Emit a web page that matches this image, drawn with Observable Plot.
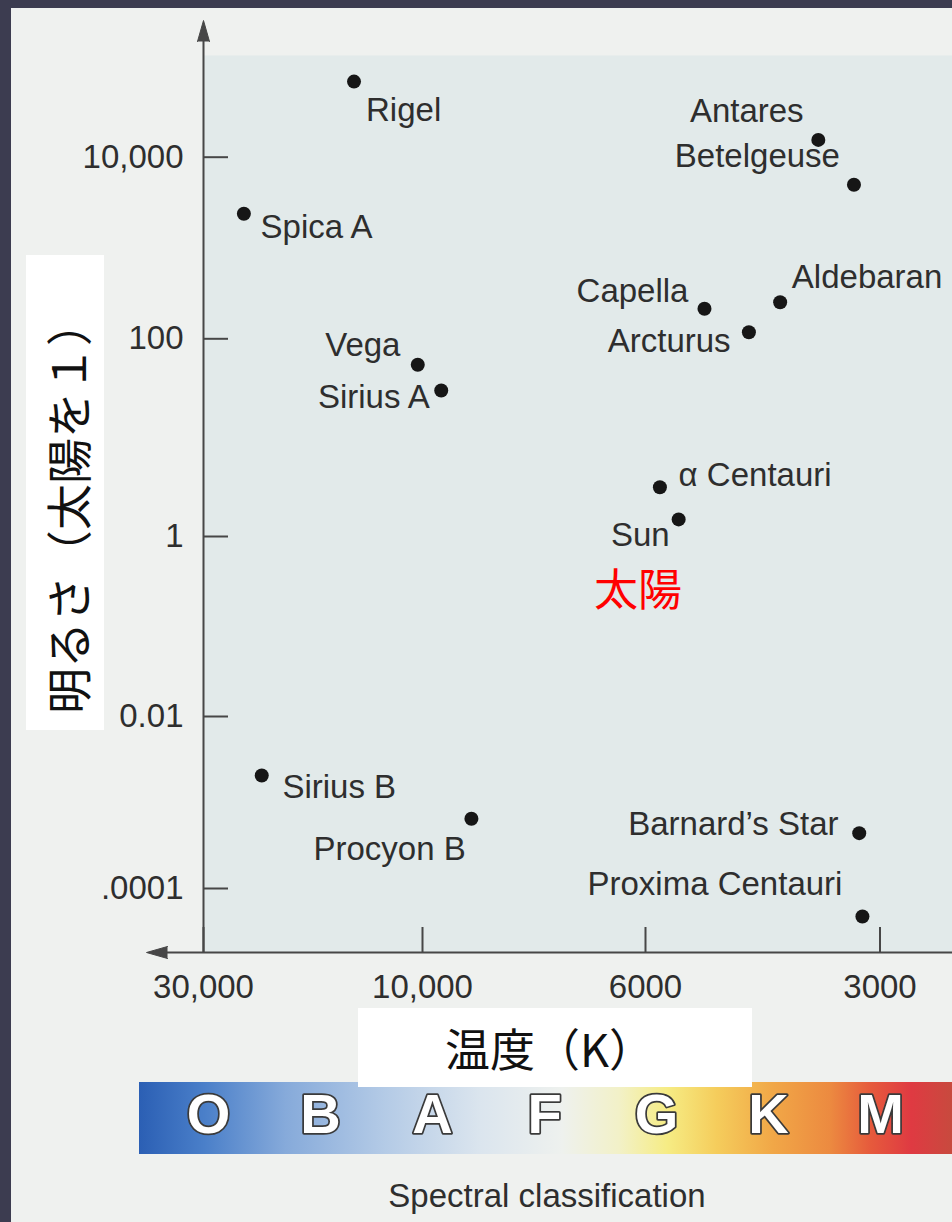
<!DOCTYPE html>
<html>
<head>
<meta charset="utf-8">
<script src="https://cdn.jsdelivr.net/npm/d3@7"></script>
<script src="https://cdn.jsdelivr.net/npm/@observablehq/plot@0.6"></script>
<style>
  html, body { margin: 0; padding: 0; background: #3c3c50; }
  #page { position: relative; width: 952px; height: 1222px; overflow: hidden; font-family: "Liberation Sans", Arial, sans-serif; }
  #paper { position: absolute; left: 11px; top: 8px; right: 0; bottom: 0; background: #eff1ef; }
  #chart { position: absolute; left: 0; top: 0; }
  #ylab-box { position: absolute; left: 26px; top: 255px; width: 78px; height: 475px; background: #ffffff; }
  #ylab { position: absolute; left: 66px; top: 507px; transform: translate(-50%, -50%) rotate(-90deg); white-space: nowrap; font-family: "Noto Sans CJK JP", sans-serif; font-size: 46px; line-height: 1; color: #111; }
  #spec { position: absolute; left: 139px; top: 1082px; }
  #xlab-box { position: absolute; left: 358px; top: 1008px; width: 394px; height: 79px; background: #ffffff; z-index: 2; }
  #xlab { position: absolute; left: 445px; top: 1047px; transform: translateY(-50%); white-space: nowrap; font-family: "Noto Sans CJK JP", sans-serif; font-size: 45px; line-height: 1; color: #111; z-index: 3; }
  #caption { position: absolute; left: 547px; top: 1179px; transform: translateX(-50%); white-space: nowrap; font-size: 33px; line-height: 33px; color: #2e2e2e; }
</style>
</head>
<body>
<div id="page">
  <div id="paper"></div>
  <div id="chart"></div>
  <div id="ylab-box"></div>
  <div id="ylab"></div>
  <div id="spec"></div>
  <div id="xlab-box"></div>
  <div id="xlab"></div>
  <div id="caption"></div>
</div>
<script>
// ---------------- data ----------------
const stars = ["Rigel", "Spica A", "Antares", "Betelgeuse", "Aldebaran", "Capella", "Arcturus",
  "Vega", "Sirius A", "α Centauri", "Sun", "Sirius B", "Procyon B", "Barnard’s Star", "Proxima Centauri"];
const temperatureK = [14100, 24500, 3600, 3240, 4030, 5040, 4420,
  10240, 9580, 5750, 5440, 22400, 8940, 3190, 3160];
const luminositySun = [68000, 2380, 15500, 4970, 253, 214, 118,
  54.6, 30.0, 3.15, 1.49, 0.00206, 0.000646, 0.00044, 0.0000473];
const sunNameJa = "太陽";
const xTicks = [30000, 10000, 6000, 3000];
const xTickLabels = ["30,000", "10,000", "6000", "3000"];
const yTicks = [10000, 100, 1, 0.01, 0.0001];
const yTickLabels = ["10,000", "100", "1", "0.01", ".0001"];
const spectralClasses = ["O", "B", "A", "F", "G", "K", "M"];
const yTitle = "明るさ（太陽を１）";
const xTitle = "温度（K）";
const spectralCaption = "Spectral classification";

// ---------------- layout / style ----------------
const W = 952, H = 1010;
const mL = 203, mT = 55, mR = 0, mB = 58;
const frameW = W - mL - mR, frameH = H - mT - mB;
const tickLen = 25;
const ink = "#474747";
const textInk = "#2e2e2e";
const labelLayout = {
  "Rigel": ["start", 12, 28.4],
  "Spica A": ["start", 16.7, 13.8],
  "Antares": ["end", -14.7, -28.2],
  "Betelgeuse": ["end", -14, -27.9],
  "Aldebaran": ["start", 11.7, -25],
  "Capella": ["end", -16, -17.2],
  "Arcturus": ["end", -18.3, 9.4],
  "Vega": ["end", -17.3, -18.9],
  "Sirius A": ["end", -11.4, 6.7],
  "α Centauri": ["start", 18.7, -12.3],
  "Sun": ["end", -9, 16],
  "Sirius B": ["start", 20.7, 12.1],
  "Procyon B": ["end", -5.7, 30.4],
  "Barnard’s Star": ["end", -20.7, -8.3],
  "Proxima Centauri": ["end", -20, -31.6]
};

const idx = d3.range(stars.length);
const sunIndex = stars.indexOf("Sun");

const labelMarks = idx.map(i => {
  const [anchor, dx, dy] = labelLayout[stars[i]];
  return Plot.text([i], {
    x: j => temperatureK[j], y: j => luminositySun[j], text: j => stars[j],
    textAnchor: anchor, dx, dy, fontSize: 33, fill: textInk
  });
});

let arrowMarks;
try {
  arrowMarks = [
    Plot.vector([0], {frameAnchor: "top-left", dy: -14, length: 21, r: 6, shape: "spike", rotate: 0, anchor: "start", fill: ink, stroke: ink, strokeWidth: 1}),
    Plot.vector([0], {frameAnchor: "bottom-left", dx: -36, length: 21, r: 6, shape: "spike", rotate: -90, anchor: "start", fill: ink, stroke: ink, strokeWidth: 1})
  ];
} catch (e) {
  arrowMarks = [
    Plot.dot([0], {frameAnchor: "top-left", dy: -26, symbol: "triangle", r: 7, fill: ink}),
    Plot.dot([0], {frameAnchor: "bottom-left", dx: -48, symbol: "triangle", r: 7, rotate: -90, fill: ink})
  ];
}

const chart = Plot.plot({
  width: W, height: H,
  marginLeft: mL, marginTop: mT, marginRight: mR, marginBottom: mB,
  x: {type: "log", domain: xTicks, range: [203, 422, 645, 879.5]},
  y: {type: "log", domain: yTicks, range: [156.7, 338.3, 536, 716, 888]},
  style: {background: "transparent", fontFamily: '"Liberation Sans", Arial, sans-serif', fontSize: "33px", color: textInk, overflow: "visible"},
  marks: [
    Plot.frame({fill: "#e2eaea", stroke: "none"}),
    Plot.tickY(yTicks, {y: d => d, insetRight: frameW - tickLen, stroke: ink, strokeWidth: 2}),
    Plot.tickX(xTicks, {x: d => d, insetTop: frameH - tickLen, stroke: ink, strokeWidth: 2}),
    Plot.ruleX([xTicks[0]], {insetTop: -16, stroke: ink, strokeWidth: 2}),
    Plot.frame({anchor: "bottom", insetLeft: -40, stroke: ink, strokeWidth: 2}),
    ...arrowMarks,
    Plot.axisY({ticks: yTicks, tickFormat: d => yTickLabels[yTicks.indexOf(d)], tickSize: 0, tickPadding: 20, fontSize: 33, label: null}),
    Plot.axisX({ticks: xTicks, tickFormat: d => xTickLabels[xTicks.indexOf(d)], tickSize: 0, tickPadding: 22, fontSize: 33, label: null}),
    Plot.dot(idx, {x: i => temperatureK[i], y: i => luminositySun[i], r: 7, fill: "#161616", stroke: "none"}),
    ...labelMarks,
    Plot.text([sunIndex], {x: i => temperatureK[i], y: i => luminositySun[i], text: () => sunNameJa,
      dx: -40.6, dy: 73, textAnchor: "middle", fontSize: 44, fill: "#ff0000", fontFamily: "Noto Sans CJK JP"})
  ]
});
document.getElementById("chart").append(chart);

const spec = Plot.plot({
  width: 813, height: 72, margin: 0,
  axis: null,
  x: {type: "point", domain: spectralClasses, range: [68.6, 740.7], padding: 0},
  style: {
    background: "linear-gradient(to right, #2b5fb4 0%, #4a7fc9 8%, #86aada 18%, #b3cae6 30%, #dbe5ee 42%, #eef1ee 52%, #f2f1c8 59%, #f6ec84 65%, #f5cd5c 71%, #f1a747 78%, #ec8a40 85%, #e65a3c 90%, #df3a42 95%, #c84a3e 100%)",
    overflow: "visible"
  },
  marks: [
    Plot.text(spectralClasses, {x: d => d, frameAnchor: "middle", text: d => d, dy: -3,
      fontSize: 56, fontWeight: "bold", fontFamily: '"Liberation Sans", Arial, sans-serif',
      fill: "#ffffff", stroke: "#3a3a3a", strokeWidth: 3.5})
  ]
});
document.getElementById("spec").append(spec);

document.getElementById("ylab").textContent = yTitle;
document.getElementById("xlab").textContent = xTitle;
document.getElementById("caption").textContent = spectralCaption;
</script>
</body>
</html>
